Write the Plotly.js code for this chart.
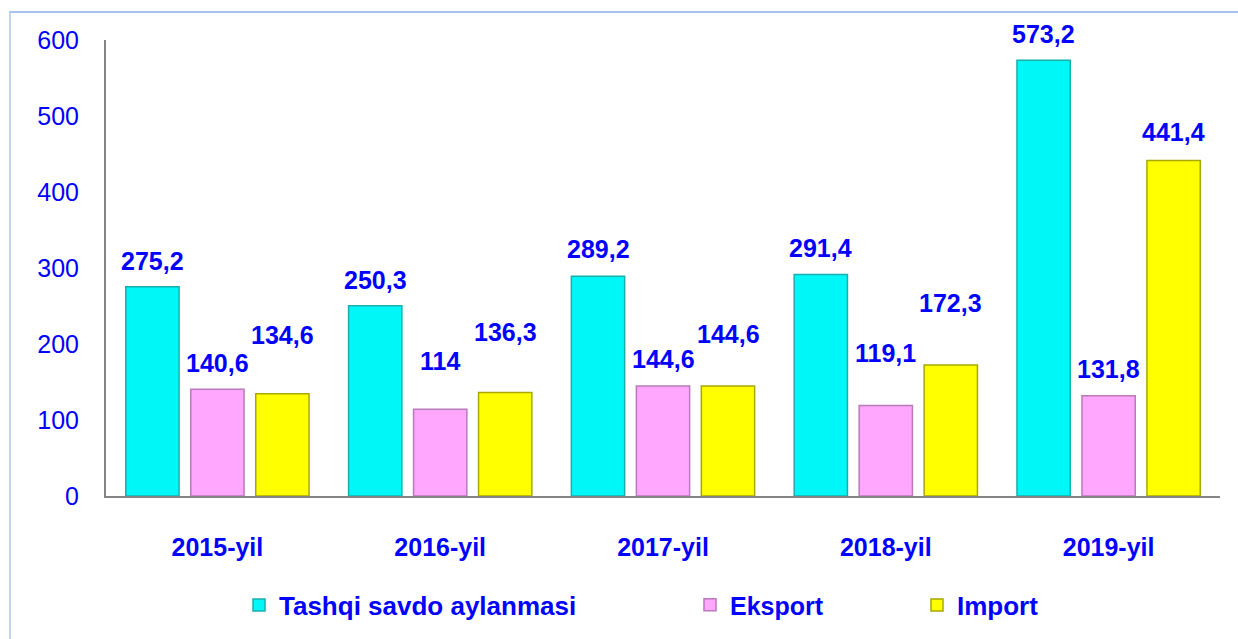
<!DOCTYPE html>
<html><head><meta charset="utf-8">
<script src="https://cdn.plot.ly/plotly-3.0.1.min.js"></script>
<style>
html,body{margin:0;padding:0;background:#fff;}
#wrap{position:relative;width:1238px;height:639px;}
#chart{width:1238px;height:639px;}
#frame{position:absolute;left:9px;top:11px;right:0;bottom:0;border-left:2px solid #C3D3EE;border-top:2px solid #A9C2EC;pointer-events:none;}
</style></head>
<body>
<div id="wrap"><div id="chart"></div><div id="frame"></div></div>
<script>
const categories = ["2015-yil","2016-yil","2017-yil","2018-yil","2019-yil"];
const seriesNames = ["Tashqi savdo aylanmasi","Eksport","Import"];
const tashqi = [275.2, 250.3, 289.2, 291.4, 573.2];
const eksport = [140.6, 114, 144.6, 119.1, 131.8];
const importV = [134.6, 136.3, 144.6, 172.3, 441.4];
const yTicks = [0,100,200,300,400,500,600];

// label vertical gaps (px above bar top), styling only
const labelGap = [[26,26,27,27,26],[26,48,27,52,27],[59,60,52,62,29]];
const seriesX = [-65, 0, 65];

const fills = ["#00F7F7","#FFA6FF","#FFFF00"];
const edges = ["#19AFAF","#B97BB9","#A8A800"];
const allVals = [tashqi, eksport, importV];
const legends = ["legend","legend2","legend3"];

const fmt = v => String(v).replace('.', ',');

const traces = allVals.map((vals,i)=>({
  type:'bar', name: seriesNames[i], x: categories, y: vals,
  marker:{color: fills[i], line:{color: edges[i], width:1.5}},
  legend: legends[i], hoverinfo:'skip'
}));

const annotations = [];
allVals.forEach((vals,i)=>{
  vals.forEach((v,j)=>{
    annotations.push({x: categories[j], y: v, xref:'x', yref:'y', text: fmt(v),
      showarrow:false, xshift: seriesX[i], yshift: labelGap[i][j], yanchor:'middle',
      font:{family:'Liberation Sans, Arial, sans-serif', size:25, color:'#0000FF', weight:'bold'}});
  });
});

const legFont = {family:'Liberation Sans, Arial, sans-serif', size:25, color:'#0000FF', weight:'bold'};
const legBase = {orientation:'h', xref:'container', yref:'container', yanchor:'middle', xanchor:'left', font:legFont, bgcolor:'rgba(0,0,0,0)', itemwidth:30, tracegroupgap:0};

const layout = {
  width:1238, height:639,
  margin:{l:106, r:18, t:40, b:143},
  paper_bgcolor:'#fff', plot_bgcolor:'#fff',
  barmode:'group', bargap:0.125, bargroupgap:0.18,
  showlegend:true,
  legend: Object.assign({}, legBase, {x:239/1238, y:1-605/639, font:Object.assign({}, legFont, {size:26})}),
  legend2: Object.assign({}, legBase, {x:690/1238, y:1-605/639}),
  legend3: Object.assign({}, legBase, {x:917/1238, y:1-605/639, font:Object.assign({}, legFont, {size:26})}),
  xaxis:{showline:true, linecolor:'#858585', linewidth:2, showgrid:false, ticks:'', ticklabelstandoff:28,
    tickfont:{family:'Liberation Sans, Arial, sans-serif', size:25, color:'#0000FF', weight:'bold'}, fixedrange:true},
  yaxis:{range:[0,600], tickvals:yTicks, showline:true, linecolor:'#858585', linewidth:2, showgrid:false, zeroline:false,
    ticks:'', ticklabelstandoff:20,
    tickfont:{family:'Liberation Sans, Arial, sans-serif', size:25, color:'#0000FF'}, fixedrange:true},
  annotations: annotations
};
Plotly.newPlot('chart', traces, layout, {displayModeBar:false, staticPlot:true});
</script>
</body></html>
